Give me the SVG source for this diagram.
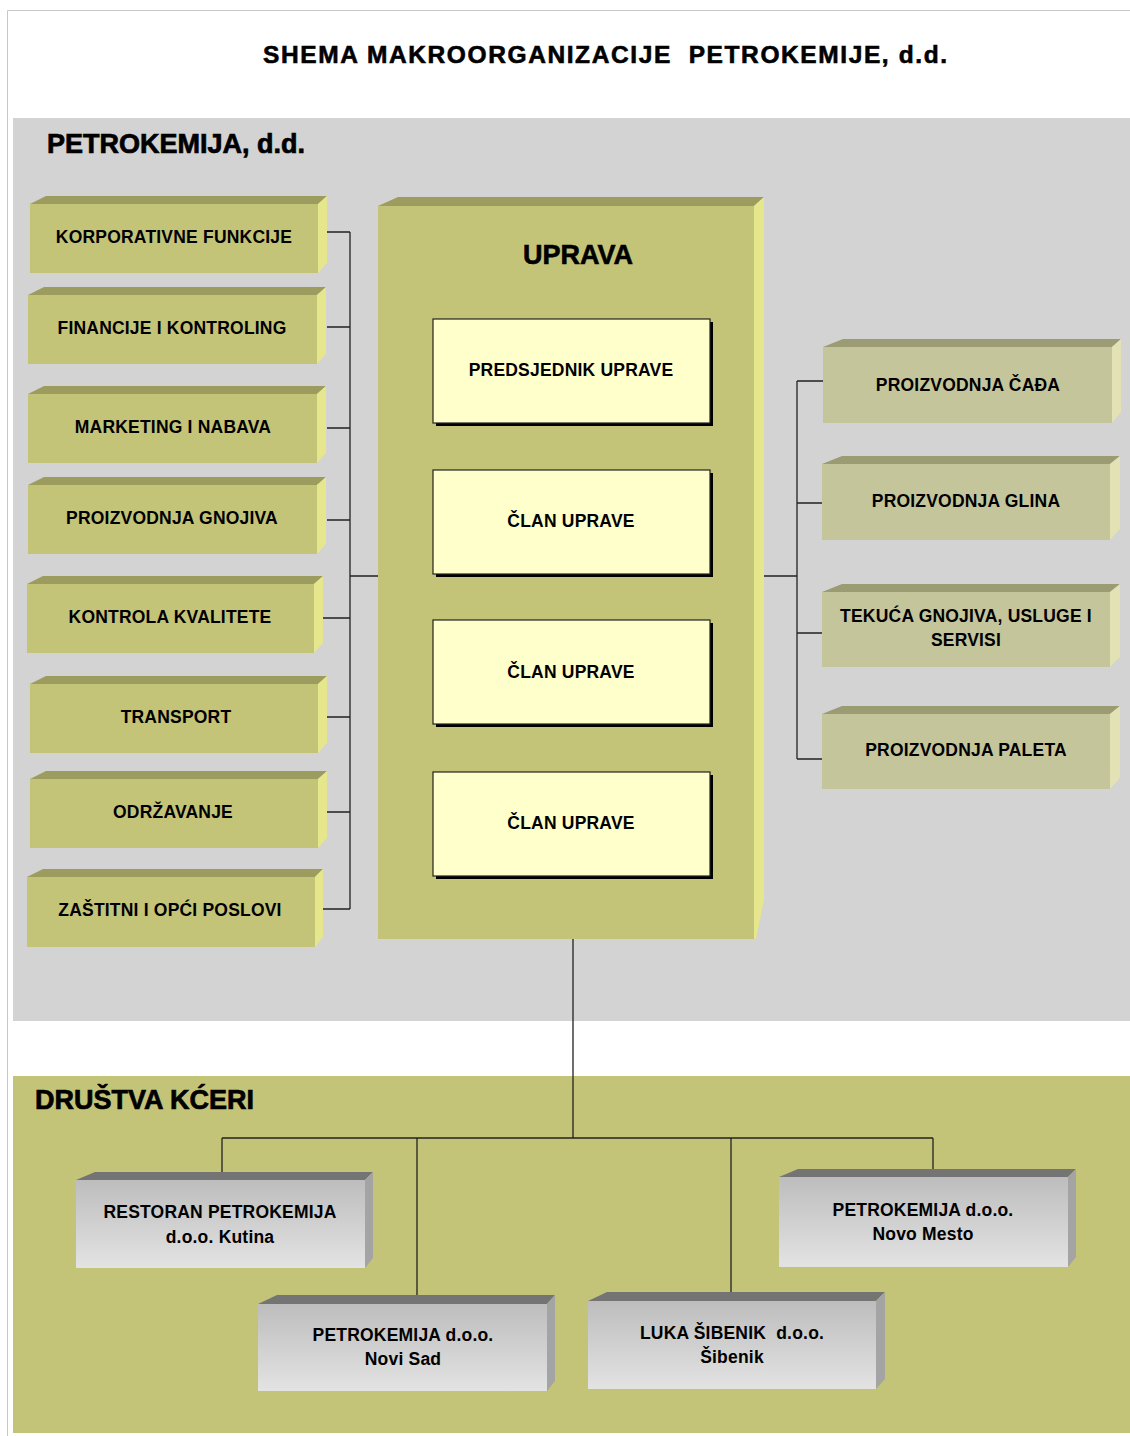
<svg xmlns="http://www.w3.org/2000/svg" width="1130" height="1436" viewBox="0 0 1130 1436">
<style>
text{font-family:"Liberation Sans",Arial,sans-serif;font-weight:bold;fill:#000;text-anchor:middle}
.t{font-size:17.5px;letter-spacing:0.2px}
.h{font-size:27px;text-anchor:start;stroke:#000;stroke-width:0.7}
.ofront{fill:#c4c478}
.otop{fill:#9c9c5e}
.oside{fill:#e6e68c}
.rfront{fill:#c5c59c}
.rtop{fill:#9b9b74}
.rside{fill:#e2e2b4}
.gtop{fill:#747474}
.gside{fill:#a4a4a4}
.inner{fill:#ffffcc;stroke:#222;stroke-width:1.2}
.conn{fill:none;stroke:#222;stroke-width:1.3}
</style>
<defs>
<linearGradient id="gg" x1="0" y1="0" x2="0" y2="1">
<stop offset="0" stop-color="#bdbdbd"/>
<stop offset="1" stop-color="#e3e3e3"/>
</linearGradient>
</defs>
<rect width="1130" height="1436" fill="#fff"/>
<path d="M7.5,1436 V10.5 H1130" fill="none" stroke="#c8c8c8" stroke-width="1"/>
<rect x="13" y="118" width="1117" height="903" fill="#d3d3d3"/>
<rect x="13" y="1076" width="1117" height="357" fill="#c4c478"/>
<text x="605" y="63" font-size="24.5" stroke="#000" stroke-width="0.6" textLength="684" lengthAdjust="spacing" xml:space="preserve">SHEMA MAKROORGANIZACIJE  PETROKEMIJE, d.d.</text>
<text class="h" x="47" y="153">PETROKEMIJA, d.d.</text>
<text class="h" x="35" y="1109">DRUŠTVA KĆERI</text>

<g id="connectors">
<path class="conn" d="M327,232 H350 M327,327 H350 M327,428 H350 M327,520 H350 M323,618 H350 M327,717 H350 M327,812 H350 M323,909 H350 M350,232 V909 M350,576 H378"/>
<path class="conn" d="M764,576 H797 M797,381 V759 M797,381 H823 M797,503 H823 M797,633 H823 M797,759 H823"/>
<path class="conn" d="M573,939 V1138 M222,1138 H933 M222,1138 V1172 M417,1138 V1295 M731,1138 V1292 M933,1138 V1169"/>
</g>

<g id="uprava">
<polygon class="otop" points="378,206 398,197 764,197 754,206"/>
<polygon class="oside" points="754,206 764,197 764,900 756,939 754,939"/>
<rect class="ofront" x="378" y="206" width="376" height="733"/>
<text x="578" y="264" font-size="27" stroke="#000" stroke-width="0.6">UPRAVA</text>
</g>

<g id="predsjednik">
<rect x="436" y="322" width="277" height="104" fill="#000"/>
<rect class="inner" x="433" y="319" width="277" height="104"/>
<text class="t" x="571" y="376">PREDSJEDNIK UPRAVE</text>
</g>
<g id="clan1">
<rect x="436" y="473" width="277" height="104" fill="#000"/>
<rect class="inner" x="433" y="470" width="277" height="104"/>
<text class="t" x="571" y="527">ČLAN UPRAVE</text>
</g>
<g id="clan2">
<rect x="436" y="623" width="277" height="104" fill="#000"/>
<rect class="inner" x="433" y="620" width="277" height="104"/>
<text class="t" x="571" y="678">ČLAN UPRAVE</text>
</g>
<g id="clan3">
<rect x="436" y="775" width="277" height="104" fill="#000"/>
<rect class="inner" x="433" y="772" width="277" height="104"/>
<text class="t" x="571" y="829">ČLAN UPRAVE</text>
</g>

<g id="korporativne">
<polygon class="otop" points="30,204 46,196 327,196 318,204"/>
<polygon class="oside" points="318,204 327,196 327,263 318,273"/>
<rect class="ofront" x="30" y="204" width="288" height="69"/>
<text class="t" x="174" y="243">KORPORATIVNE FUNKCIJE</text>
</g>
<g id="financije">
<polygon class="otop" points="28,295 44,287 326,287 317,295"/>
<polygon class="oside" points="317,295 326,287 326,354 317,364"/>
<rect class="ofront" x="28" y="295" width="289" height="69"/>
<text class="t" x="172" y="334">FINANCIJE I KONTROLING</text>
</g>
<g id="marketing">
<polygon class="otop" points="28,394 44,386 326,386 317,394"/>
<polygon class="oside" points="317,394 326,386 326,453 317,463"/>
<rect class="ofront" x="28" y="394" width="289" height="69"/>
<text class="t" x="173" y="433">MARKETING I NABAVA</text>
</g>
<g id="gnojiva">
<polygon class="otop" points="28,485 44,477 326,477 317,485"/>
<polygon class="oside" points="317,485 326,477 326,544 317,554"/>
<rect class="ofront" x="28" y="485" width="289" height="69"/>
<text class="t" x="172" y="524">PROIZVODNJA GNOJIVA</text>
</g>
<g id="kvaliteta">
<polygon class="otop" points="27,584 43,576 323,576 314,584"/>
<polygon class="oside" points="314,584 323,576 323,643 314,653"/>
<rect class="ofront" x="27" y="584" width="287" height="69"/>
<text class="t" x="170" y="623">KONTROLA KVALITETE</text>
</g>
<g id="transport">
<polygon class="otop" points="30,684 46,676 327,676 318,684"/>
<polygon class="oside" points="318,684 327,676 327,743 318,753"/>
<rect class="ofront" x="30" y="684" width="288" height="69"/>
<text class="t" x="176" y="723">TRANSPORT</text>
</g>
<g id="odrzavanje">
<polygon class="otop" points="30,779 46,771 327,771 318,779"/>
<polygon class="oside" points="318,779 327,771 327,838 318,848"/>
<rect class="ofront" x="30" y="779" width="288" height="69"/>
<text class="t" x="173" y="818">ODRŽAVANJE</text>
</g>
<g id="zastitni">
<polygon class="otop" points="27,877 43,869 323,869 315,877"/>
<polygon class="oside" points="315,877 323,869 323,937 315,947"/>
<rect class="ofront" x="27" y="877" width="288" height="70"/>
<text class="t" x="170" y="916">ZAŠTITNI I OPĆI POSLOVI</text>
</g>

<g id="cada">
<polygon class="rtop" points="823,347 843,339 1121,339 1112,347"/>
<polygon class="rside" points="1112,347 1121,339 1121,412 1112,423"/>
<rect class="rfront" x="823" y="347" width="289" height="76"/>
<text class="t" x="968" y="391">PROIZVODNJA ČAĐA</text>
</g>
<g id="glina">
<polygon class="rtop" points="822,464 842,456 1120,456 1110,464"/>
<polygon class="rside" points="1110,464 1120,456 1120,529 1110,540"/>
<rect class="rfront" x="822" y="464" width="288" height="76"/>
<text class="t" x="966" y="507">PROIZVODNJA GLINA</text>
</g>
<g id="tekuca">
<polygon class="rtop" points="822,592 842,584 1120,584 1110,592"/>
<polygon class="rside" points="1110,592 1120,584 1120,657 1110,667"/>
<rect class="rfront" x="822" y="592" width="288" height="75"/>
<text class="t" x="966" y="622">TEKUĆA GNOJIVA, USLUGE I</text>
<text class="t" x="966" y="646">SERVISI</text>
</g>
<g id="paleta">
<polygon class="rtop" points="822,714 842,706 1120,706 1110,714"/>
<polygon class="rside" points="1110,714 1120,706 1120,778 1110,789"/>
<rect class="rfront" x="822" y="714" width="288" height="75"/>
<text class="t" x="966" y="756">PROIZVODNJA PALETA</text>
</g>

<g id="restoran">
<polygon class="gtop" points="76,1180 95,1172 373,1172 365,1180"/>
<polygon class="gside" points="365,1180 373,1172 373,1258 365,1268"/>
<rect x="76" y="1180" width="289" height="88" fill="url(#gg)"/>
<text class="t" x="220" y="1218">RESTORAN PETROKEMIJA</text>
<text class="t" x="220" y="1243">d.o.o. Kutina</text>
</g>
<g id="novisad">
<polygon class="gtop" points="258,1304 277,1295 555,1295 547,1304"/>
<polygon class="gside" points="547,1304 555,1295 555,1381 547,1391"/>
<rect x="258" y="1304" width="289" height="87" fill="url(#gg)"/>
<text class="t" x="403" y="1341">PETROKEMIJA d.o.o.</text>
<text class="t" x="403" y="1365">Novi Sad</text>
</g>
<g id="luka">
<polygon class="gtop" points="588,1301 607,1292 885,1292 876,1301"/>
<polygon class="gside" points="876,1301 885,1292 885,1379 876,1389"/>
<rect x="588" y="1301" width="288" height="88" fill="url(#gg)"/>
<text class="t" x="732" y="1339" xml:space="preserve">LUKA ŠIBENIK  d.o.o.</text>
<text class="t" x="732" y="1363">Šibenik</text>
</g>
<g id="novomesto">
<polygon class="gtop" points="779,1177 798,1169 1076,1169 1068,1177"/>
<polygon class="gside" points="1068,1177 1076,1169 1076,1257 1068,1267"/>
<rect x="779" y="1177" width="289" height="90" fill="url(#gg)"/>
<text class="t" x="923" y="1216">PETROKEMIJA d.o.o.</text>
<text class="t" x="923" y="1240">Novo Mesto</text>
</g>
</svg>
